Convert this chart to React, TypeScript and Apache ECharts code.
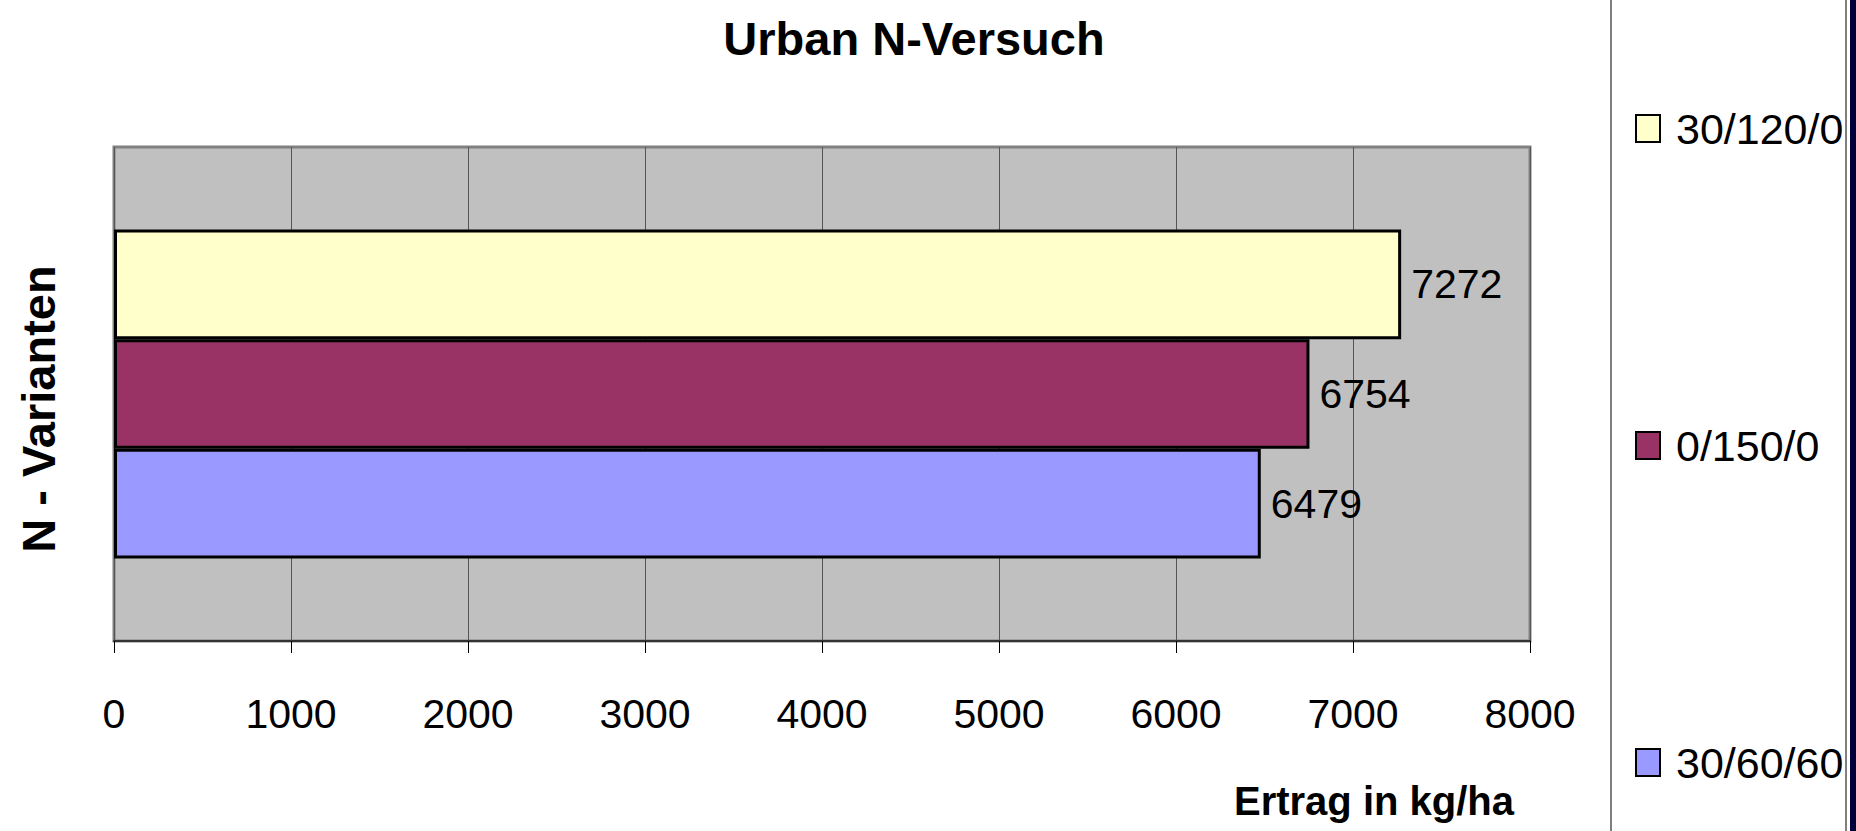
import React, { useEffect, useRef } from 'react';
import * as echarts from 'echarts';

// ---- data ----
const categories: string[] = [''];
const seriesNames: string[] = ['30/120/0', '0/150/0', '30/60/60'];
const seriesValues: number[] = [7272, 6754, 6479];
const seriesColors: string[] = ['#FFFFCC', '#993366', '#9999FF'];
const legendOrder: string[] = ['30/120/0', '0/150/0', '30/60/60'];
const xMin = 0;
const xMax = 8000;
const xInterval = 1000;
const titleText = 'Urban N-Versuch';
const xAxisName = 'Ertrag in kg/ha';
const yAxisName = 'N - Varianten';

const FONT = "'Liberation Sans', Arial, sans-serif";

export default function App() {
  const ref = useRef<HTMLDivElement>(null);

  useEffect(() => {
    if (!ref.current) return;
    const chart = echarts.init(ref.current, undefined, { renderer: 'svg' });

    const series = seriesNames.map((name, i) => ({
      name,
      type: 'bar' as const,
      data: [seriesValues[i]],
      barGap: '0%',
      barCategoryGap: '33.4%',
      itemStyle: { color: seriesColors[i], borderColor: '#000', borderWidth: 3 },
      label: {
        show: true,
        position: 'right' as const,
        distance: 10,
        color: '#000',
        fontSize: 41,
        fontFamily: FONT,
      },
    }));

    chart.setOption({
      animation: false,
      backgroundColor: '#ffffff',
      grid: {
        left: 114,
        top: 147,
        width: 1416,
        height: 494,
        show: true,
        containLabel: false,
        outerBoundsMode: 'none',
        backgroundColor: '#C0C0C0',
        borderColor: '#808080',
        borderWidth: 3,
      },
      legend: {
        orient: 'vertical',
        left: 1630,
        top: 102,
        itemWidth: 24,
        itemHeight: 27,
        itemGap: 274,
        icon: 'rect',
        data: legendOrder,
        textStyle: { fontSize: 43, fontFamily: FONT, color: '#000', padding: [0, 0, 0, 11] },
        selectedMode: false,
      },
      xAxis: {
        type: 'value',
        min: xMin,
        max: xMax,
        interval: xInterval,
        axisLine: { show: true, lineStyle: { color: '#333', width: 2 } },
        axisTick: { show: true, length: 12, lineStyle: { color: '#000', width: 1 } },
        axisLabel: {
          margin: 52,
          fontSize: 41,
          fontFamily: FONT,
          color: '#000',
          formatter: (v: number) => String(v),
        },
        splitLine: { show: true, lineStyle: { color: '#555', width: 1 } },
      },
      yAxis: {
        type: 'category',
        data: categories,
        axisLine: { show: false },
        axisTick: { show: false },
        axisLabel: { show: false },
        name: yAxisName,
        nameLocation: 'middle',
        nameRotate: 90,
        nameGap: 52,
        nameTextStyle: { fontSize: 47, fontWeight: 'bold', fontFamily: FONT, color: '#000', padding: [0, 30, 0, 0] },
      },
      series,
      graphic: [
        {
          type: 'text',
          x: 914,
          y: 38,
          style: {
            text: titleText,
            fontSize: 47,
            fontWeight: 'bold',
            fontFamily: FONT,
            fill: '#000',
            align: 'center',
            verticalAlign: 'middle',
          },
        },
        {
          type: 'text',
          x: 1374,
          y: 801,
          style: {
            text: xAxisName,
            fontSize: 40,
            fontWeight: 'bold',
            fontFamily: FONT,
            fill: '#000',
            align: 'center',
            verticalAlign: 'middle',
          },
        },
        {
          type: 'rect',
          shape: { x: 1611, y: -2, width: 235, height: 835 },
          style: { fill: 'none', stroke: '#000', lineWidth: 1 },
          silent: true,
        },
        {
          type: 'rect',
          shape: { x: 1850, y: 0, width: 6, height: 831 },
          style: { fill: '#00003a' },
          silent: true,
        },
      ],
    });

    return () => chart.dispose();
  }, []);

  return (
    <div
      ref={ref}
      style={{ position: 'fixed', left: 0, top: 0, width: 1856, height: 831 }}
    />
  );
}
